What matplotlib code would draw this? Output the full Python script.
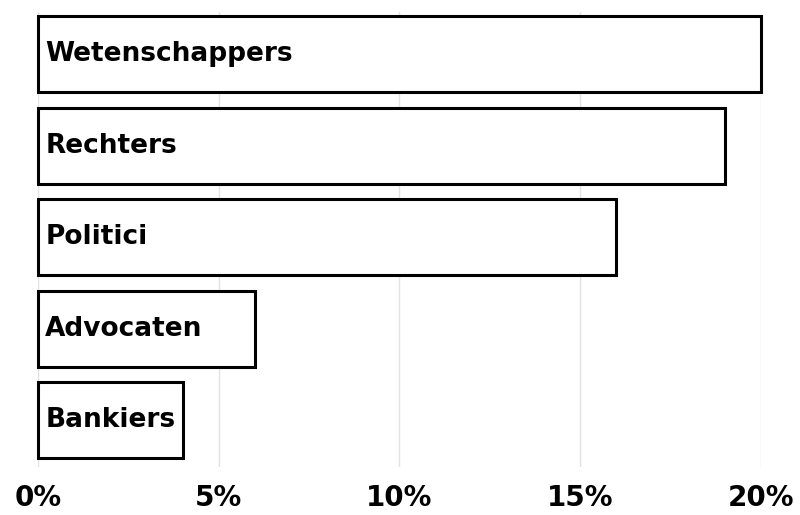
import matplotlib
matplotlib.use("Agg")
import matplotlib.pyplot as plt

# share of people per profession (percent)
professions = ["Wetenschappers", "Rechters", "Politici", "Advocaten", "Bankiers"]
shares = [20, 19, 16, 6, 4]
tick_values = [0, 5, 10, 15, 20]
tick_labels = ["0%", "5%", "10%", "15%", "20%"]

fig = plt.figure(figsize=(8, 5.15), dpi=100)
ax = fig.add_axes([0.0475, 0.093, 0.9035, 0.884])

pos = list(range(len(professions)))
bars = ax.barh(pos, shares, height=0.83, color="white", edgecolor="black",
               linewidth=2.2, zorder=3)
for b in bars:
    b.set_clip_on(False)

for p, name in zip(pos, professions):
    ax.text(0.2, p, name, ha="left", va="center", fontsize=19,
            fontweight="bold", color="black", zorder=4)

ax.set_xlim(0, 20)
ax.set_ylim(4.51, -0.46)
ax.set_xticks(tick_values)
ax.set_xticklabels(tick_labels, fontsize=20, fontweight="bold")
ax.set_yticks([])
ax.tick_params(axis="x", length=0, pad=12)
ax.grid(axis="x", color="#e3e3e3", linewidth=1, zorder=0)
for s in ax.spines.values():
    s.set_visible(False)

fig.savefig("out.png", dpi=100)
